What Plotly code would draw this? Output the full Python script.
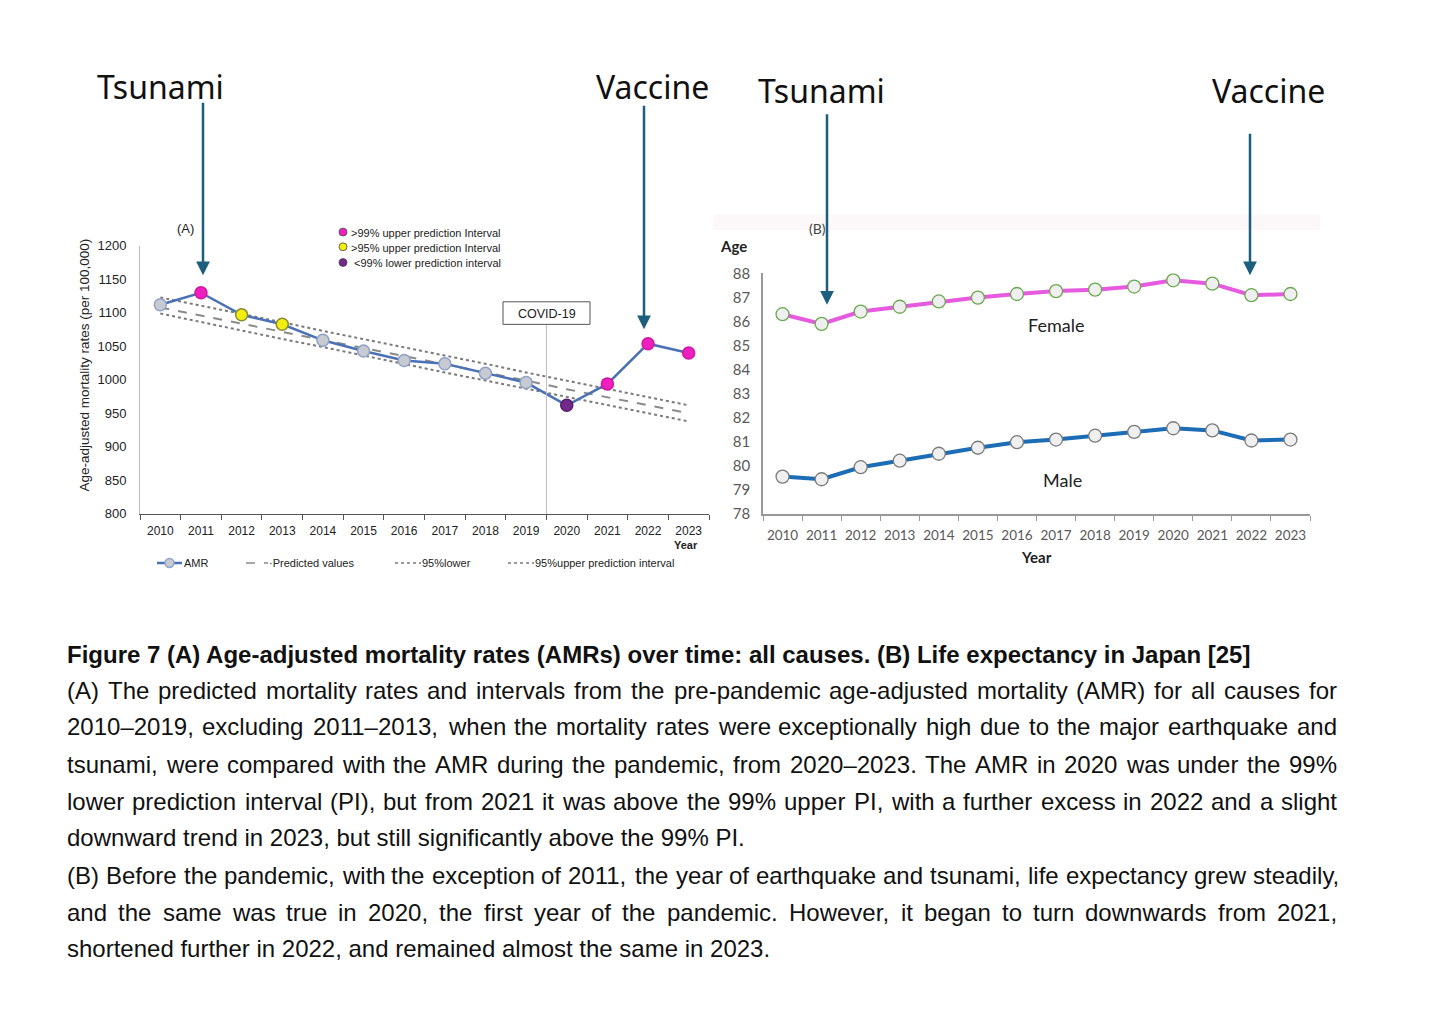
import plotly.graph_objects as go

# the page keeps the browser's default 8px body margin; the figure fills the rest of the 1456x1014 window
PAGE_W, PAGE_H = 1456, 1014
M = 8
W, H = PAGE_W - 2 * M, PAGE_H - 2 * M
def X(px): return (px - M) / W
def Y(py): return 1 - (py - M) / H

# ---------------- data ----------------
years = [2010, 2011, 2012, 2013, 2014, 2015, 2016, 2017, 2018, 2019, 2020, 2021, 2022, 2023]
amr = [1112, 1130, 1097, 1083, 1059, 1043, 1029, 1024, 1010, 996, 962, 994, 1054, 1040]
amr_status = ["n", "u99", "u95", "u95", "n", "n", "n", "n", "n", "n", "l99", "u99", "u99", "u99"]
predicted = [1108, 1096, 1084, 1072, 1059, 1047, 1035, 1023, 1011, 999, 986, 974, 962, 950]
upper95 = [1123, 1111, 1098, 1086, 1073, 1061, 1049, 1036, 1024, 1011, 999, 987, 974, 962]
lower95 = [1099, 1086, 1074, 1061, 1049, 1036, 1024, 1011, 999, 987, 974, 962, 950, 938]
female_le = [86.30, 85.90, 86.41, 86.61, 86.83, 86.99, 87.14, 87.26, 87.32, 87.45, 87.71, 87.57, 87.09, 87.14]
male_le = [79.55, 79.44, 79.94, 80.21, 80.50, 80.75, 80.98, 81.09, 81.25, 81.41, 81.56, 81.47, 81.05, 81.09]
amr_ticks = [800, 850, 900, 950, 1000, 1050, 1100, 1150, 1200]
age_ticks = [78, 79, 80, 81, 82, 83, 84, 85, 86, 87, 88]

status_fill = {"n": "#c8cad2", "u99": "#ef1fbf", "u95": "#f2ef10", "l99": "#73288c"}
status_line = {"n": "#8fa2c8", "u99": "#d0189f", "u95": "#8a8a30", "l99": "#5a1e70"}

caption_title = "Figure 7 (A) Age-adjusted mortality rates (AMRs) over time: all causes. (B) Life expectancy in Japan [25]"
caption_lines = [
    "(A) The predicted mortality rates and intervals from the pre-pandemic age-adjusted mortality (AMR) for all causes for",
    "2010–2019, excluding 2011–2013, when the mortality rates were exceptionally high due to the major earthquake and",
    "tsunami, were compared with the AMR during the pandemic, from 2020–2023. The AMR in 2020 was under the 99%",
    "lower prediction interval (PI), but from 2021 it was above the 99% upper PI, with a further excess in 2022 and a slight",
    "downward trend in 2023, but still significantly above the 99% PI.",
    "(B) Before the pandemic, with the exception of 2011, the year of earthquake and tsunami, life expectancy grew steadily,",
    "and the same was true in 2020, the first year of the pandemic. However, it began to turn downwards from 2021,",
    "shortened further in 2022, and remained almost the same in 2023.",
]
caption_justified = [True, True, True, True, False, True, True, False]

fig = go.Figure()

# ---------------- panel A ----------------
fig.add_trace(go.Scatter(x=years, y=upper95, mode="lines", line=dict(color="#7a7a7a", width=2, dash="dot"),
                         xaxis="x", yaxis="y", showlegend=False, hoverinfo="skip"))
fig.add_trace(go.Scatter(x=years, y=lower95, mode="lines", line=dict(color="#7a7a7a", width=2, dash="dot"),
                         xaxis="x", yaxis="y", showlegend=False, hoverinfo="skip"))
fig.add_trace(go.Scatter(x=years, y=predicted, mode="lines", line=dict(color="#8a8a8a", width=2, dash="dash"),
                         xaxis="x", yaxis="y", showlegend=False, hoverinfo="skip"))
fig.add_trace(go.Scatter(x=years, y=amr, mode="lines+markers",
                         line=dict(color="#4a70b5", width=2.5),
                         marker=dict(size=12, color=[status_fill[s] for s in amr_status],
                                     line=dict(color=[status_line[s] for s in amr_status], width=1.5)),
                         xaxis="x", yaxis="y", showlegend=False))

# ---------------- panel B ----------------
fig.add_trace(go.Scatter(x=years, y=female_le, mode="lines+markers",
                         line=dict(color="#e65ae0", width=4),
                         marker=dict(size=13, color="#efefef", line=dict(color="#6aa84f", width=1.3)),
                         xaxis="x2", yaxis="y2", showlegend=False))
fig.add_trace(go.Scatter(x=years, y=male_le, mode="lines+markers",
                         line=dict(color="#1c6db5", width=4),
                         marker=dict(size=13, color="#efefef", line=dict(color="#7a7a7a", width=1.3)),
                         xaxis="x2", yaxis="y2", showlegend=False))

half_years = [y - 0.5 for y in years] + [years[-1] + 0.5]

fig.update_layout(
    width=W, height=H, margin=dict(l=0, r=0, t=0, b=0),
    paper_bgcolor="white", plot_bgcolor="rgba(0,0,0,0)",
    font=dict(family="Liberation Sans, Arial", color="#222"),
    xaxis=dict(domain=[X(140), X(709)], range=[2009.5, 2023.5], tickvals=years, ticks="",
               showgrid=False, zeroline=False, showline=True, linecolor="#555", linewidth=1,
               tickfont=dict(size=12, color="#222"), ticklabelstandoff=6,
               minor=dict(tickvals=half_years, ticks="outside", ticklen=5, tickcolor="#555")),
    yaxis=dict(domain=[Y(513), Y(240)], range=[800, 1200], tickvals=amr_ticks, ticks="",
               showgrid=False, zeroline=False, showline=True, linecolor="#bbb", linewidth=1,
               tickfont=dict(size=13, color="#222"), ticklabelstandoff=10),
    xaxis2=dict(domain=[X(763), X(1310)], range=[2009.5, 2023.5], tickvals=years, ticks="",
                anchor="y2", showgrid=False, zeroline=False, showline=True, linecolor="#999", linewidth=1.5,
                tickfont=dict(family="Lato, Open Sans", size=13.5, color="#595959"), ticklabelstandoff=8,
                minor=dict(tickvals=half_years, ticks="outside", ticklen=5, tickcolor="#999")),
    yaxis2=dict(domain=[Y(513), Y(268)], range=[78, 88], tickvals=age_ticks, ticks="",
                anchor="x2", showgrid=False, zeroline=False, showline=True, linecolor="#999", linewidth=1.5,
                tickfont=dict(family="Lato, Open Sans", size=15, color="#595959"), ticklabelstandoff=8),
)

shapes = []
annos = []

def txt(text, px, py, size, anchor="center", family=None, color="#222", angle=0):
    f = dict(size=size, color=color)
    if family:
        f["family"] = family
    annos.append(dict(text=text, x=X(px), y=Y(py), xref="paper", yref="paper", showarrow=False,
                      xanchor=anchor, yanchor="middle", textangle=angle, font=f, borderpad=0))

# panel B background band (very faint)
shapes.append(dict(type="rect", xref="paper", yref="paper", x0=X(713), x1=X(1320), y0=Y(224), y1=Y(208),
                   fillcolor="#fcf7f8", line=dict(width=0), layer="below"))

# COVID line and box
shapes.append(dict(type="line", xref="x", yref="paper", x0=2019.5, x1=2019.5, y0=Y(513), y1=Y(320),
                   line=dict(color="#bdbdbd", width=1)))
shapes.append(dict(type="rect", xref="paper", yref="paper", x0=X(503), x1=X(590), y0=Y(320), y1=Y(297),
                   fillcolor="white", line=dict(color="#555", width=1)))
txt("COVID-19", 546.5, 309, 12.5)

# panel A in-plot legend (top)
leg_top = [(">99% upper prediction Interval", "u99", 226, 350), (">95% upper prediction Interval", "u95", 241, 350),
           ("&lt;99% lower prediction interval", "l99", 257, 353)]
for t, st, py, tx in leg_top:
    shapes.append(dict(type="circle", xref="paper", yref="paper", x0=X(339), x1=X(347), y0=Y(py + 4), y1=Y(py - 4),
                       fillcolor=status_fill[st], line=dict(color="#444", width=0.8)))
    txt(t, tx, py + 1, 11, anchor="left")

# panel A bottom legend
by = 563
shapes.append(dict(type="line", xref="paper", yref="paper", x0=X(157), x1=X(182), y0=Y(by), y1=Y(by),
                   line=dict(color="#4a70b5", width=2.5)))
shapes.append(dict(type="circle", xref="paper", yref="paper", x0=X(165), x1=X(174), y0=Y(by + 4.5), y1=Y(by - 4.5),
                   fillcolor="#c8cad2", line=dict(color="#8fa2c8", width=1.5)))
txt("AMR", 183, by, 11, anchor="left")
shapes.append(dict(type="line", xref="paper", yref="paper", x0=X(246), x1=X(268), y0=Y(by), y1=Y(by),
                   line=dict(color="#8a8a8a", width=1.5, dash="dash")))
txt("·Predicted values", 268, by, 11, anchor="left")
shapes.append(dict(type="line", xref="paper", yref="paper", x0=X(395), x1=X(421), y0=Y(by), y1=Y(by),
                   line=dict(color="#7a7a7a", width=1.5, dash="dot")))
txt("95%lower", 421, by, 11, anchor="left")
shapes.append(dict(type="line", xref="paper", yref="paper", x0=X(508), x1=X(534), y0=Y(by), y1=Y(by),
                   line=dict(color="#7a7a7a", width=1.5, dash="dot")))
txt("95%upper prediction interval", 534, by, 11, anchor="left")

# panel A labels
txt("Age-adjusted mortality rates (per 100,000)", 85, 362, 13.5, angle=-90)
txt("(A)", 185, 222, 13)
txt("<b>Year</b>", 686, 545, 11)

# panel B labels
txt("<b>Age</b>", 733, 240, 15, family="Lato, Open Sans")
txt("(B)", 817, 222, 14, family="Lato, Open Sans", color="#444")
txt("Female", 1056, 321, 18, family="Lato, Open Sans")
txt("Male", 1062, 478, 18, family="Lato, Open Sans")
txt("<b>Year</b>", 1036, 557, 15, family="Lato, Open Sans")

# top labels and arrows
for t, cx, cy in [("Tsunami", 160, 78), ("Vaccine", 652, 78), ("Tsunami", 821, 82), ("Vaccine", 1268, 82)]:
    txt(t, cx, cy, 32, family="Noto Sans", color="#111")
for ax_, tail, tip in [(203, 96, 270), (644, 100, 325), (827, 108, 300), (1250, 127, 270)]:
    annos.append(dict(text="", x=X(ax_), y=Y(tip), xref="paper", yref="paper", showarrow=True,
                      axref="pixel", ayref="pixel", ax=0, ay=-(tip - tail), arrowhead=2, arrowsize=1.1,
                      arrowwidth=2.5, arrowcolor="#1b5e7e"))

# caption (justified lines laid out word by word with Arial/Liberation Sans metrics)
AW = {" ": 278, "(": 333, ")": 333, ",": 278, ".": 278, "–": 556, "%": 889, "-": 333,
      "A": 667, "B": 667, "H": 722, "I": 278, "M": 833, "P": 667, "R": 722, "T": 611}
for ch in "0123456789":
    AW[ch] = 556
for ch, w in zip("abcdefghijklmnopqrstuvwxyz",
                 [556, 556, 500, 556, 556, 278, 556, 556, 222, 222, 500, 222, 833,
                  556, 556, 556, 556, 333, 500, 278, 556, 500, 722, 500, 500, 500]):
    AW[ch] = w

def width(s, size):
    return sum(AW.get(c, 556) for c in s) * size / 1000.0

CAP = 24
LEFT, RIGHT = 66, 1336
txt("<b>" + caption_title + "</b>", LEFT, 656, CAP, anchor="left", color="#111")
line_y = [693, 730, 768, 806, 843, 881, 919, 956]
for line, py, just in zip(caption_lines, line_y, caption_justified):
    if not just:
        txt(line, LEFT, py, CAP, anchor="left", color="#111")
        continue
    words = line.split(" ")
    total = sum(width(w, CAP) for w in words)
    right = 1340 if line.endswith("steadily,") else RIGHT
    gap = (right - LEFT - total) / (len(words) - 1)
    xpos = LEFT
    for w in words:
        txt(w, xpos, py, CAP, anchor="left", color="#111")
        xpos += width(w, CAP) + gap

fig.update_layout(shapes=shapes, annotations=annos)

fig.write_html("out.html", config={"displayModeBar": False})
